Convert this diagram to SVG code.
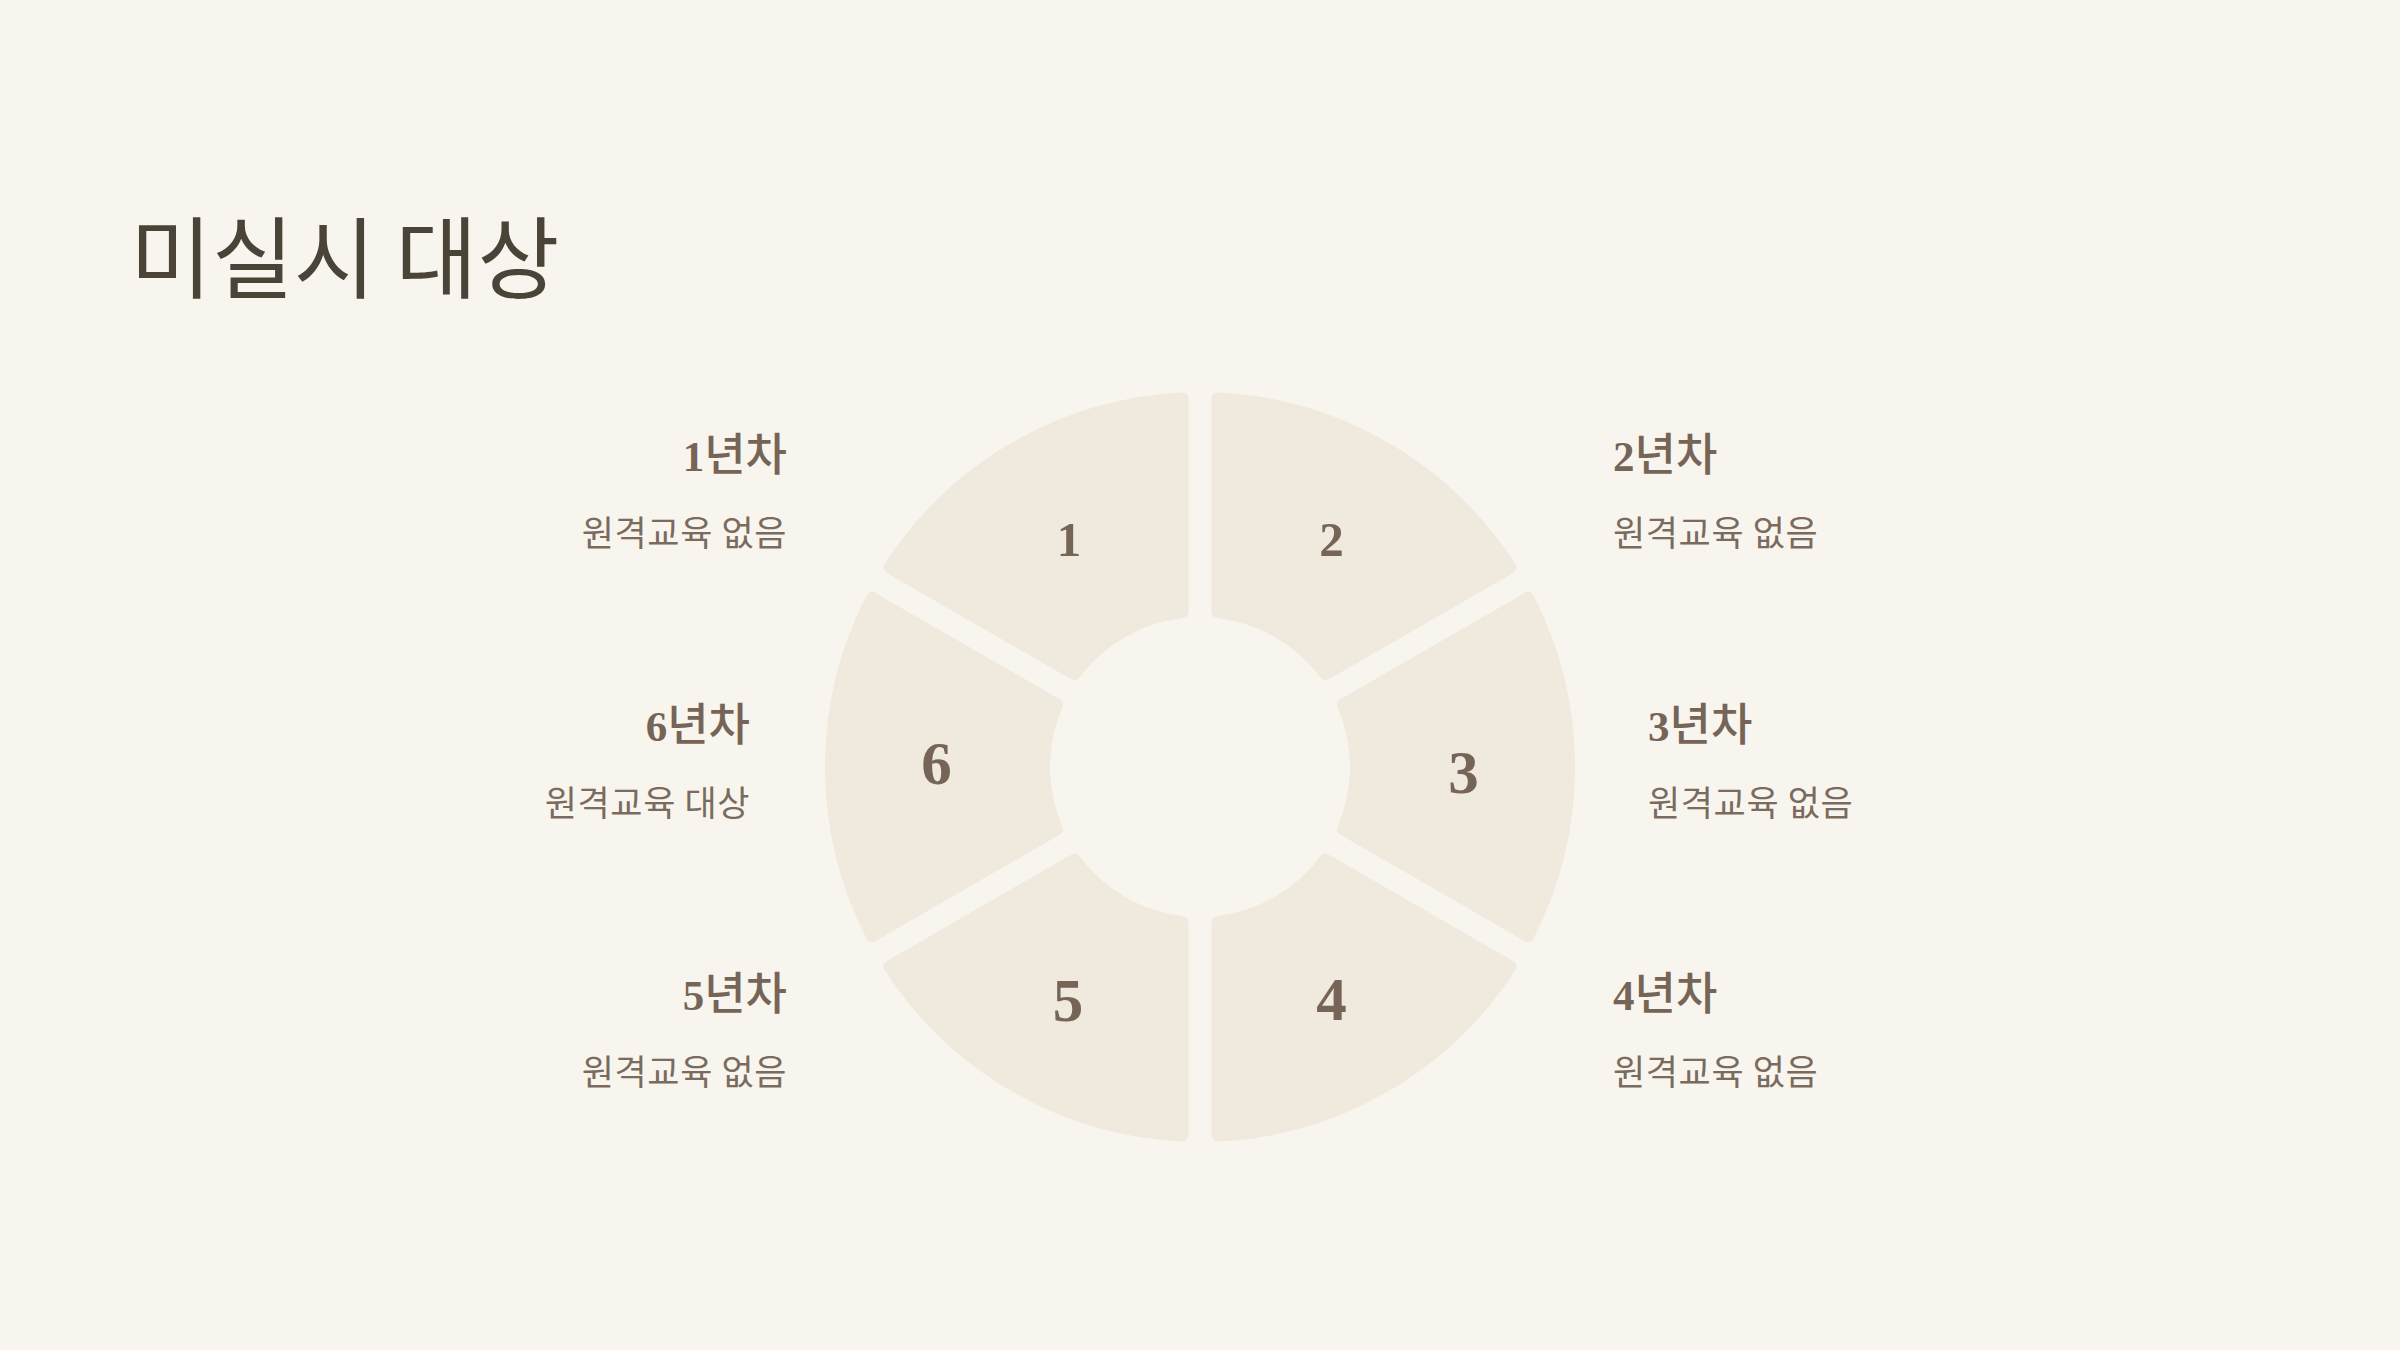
<svg xmlns="http://www.w3.org/2000/svg" width="2400" height="1350" viewBox="0 0 2400 1350">
<defs>
<style>
.seg{fill:#EFE9DE;stroke:#EFE9DE;stroke-width:12;stroke-linejoin:round}
.num{font-family:"Liberation Serif","DejaVu Serif",serif;font-weight:700;fill:#766556;text-anchor:middle}
.head{font-size:45px;fill:#766556}
.hd{font-family:"Liberation Serif","DejaVu Serif",serif;font-weight:700;font-size:43px}
.hk{font-family:"Noto Sans CJK KR","Noto Sans",sans-serif;font-weight:500}
.sub{font-family:"Noto Sans CJK KR","Noto Sans",sans-serif;font-size:35px;letter-spacing:0.6px;font-weight:400;fill:#7A6B5E}
.end{text-anchor:end}
.title{font-family:"Noto Sans CJK KR","Noto Sans",sans-serif;font-size:89px;font-weight:400;fill:#4A4438}
</style>
<path id="wedge" class="seg" d="M17.5,-155.015 L17.5,-368.585 A369,369 0 0 1 310.454,-199.448 L125.497,-92.663 A156,156 0 0 0 17.5,-155.015 Z"/>
</defs>
<rect width="2400" height="1350" fill="#F8F5EE"/>
<text id="title" class="title" x="130" y="291">미실시 대상</text>
<g id="connectors"></g>
<g id="seg1"><use href="#wedge" transform="translate(1200 767) rotate(-60)"/><text class="num" x="1069" y="556" font-size="49">1</text></g>
<g id="seg2"><use href="#wedge" transform="translate(1200 767)"/><text class="num" x="1331.5" y="556" font-size="49">2</text></g>
<g id="seg3"><use href="#wedge" transform="translate(1200 767) rotate(60)"/><text class="num" x="1463.5" y="793" font-size="61">3</text></g>
<g id="seg4"><use href="#wedge" transform="translate(1200 767) rotate(120)"/><text class="num" x="1331.5" y="1020" font-size="61">4</text></g>
<g id="seg5"><use href="#wedge" transform="translate(1200 767) rotate(180)"/><text class="num" x="1068" y="1021" font-size="61">5</text></g>
<g id="seg6"><use href="#wedge" transform="translate(1200 767) rotate(240)"/><text class="num" x="936.5" y="784" font-size="61">6</text></g>
<g id="label1"><text class="head end" x="787" y="471"><tspan class="hd">1</tspan><tspan class="hk">년차</tspan></text><text class="sub end" x="787" y="546">원격교육 없음</text></g>
<g id="label2"><text class="head" x="1613" y="471"><tspan class="hd">2</tspan><tspan class="hk">년차</tspan></text><text class="sub" x="1613" y="546">원격교육 없음</text></g>
<g id="label3"><text class="head" x="1648" y="741"><tspan class="hd">3</tspan><tspan class="hk">년차</tspan></text><text class="sub" x="1648" y="816">원격교육 없음</text></g>
<g id="label4"><text class="head" x="1613" y="1010"><tspan class="hd">4</tspan><tspan class="hk">년차</tspan></text><text class="sub" x="1613" y="1085">원격교육 없음</text></g>
<g id="label5"><text class="head end" x="787" y="1010"><tspan class="hd">5</tspan><tspan class="hk">년차</tspan></text><text class="sub end" x="787" y="1085">원격교육 없음</text></g>
<g id="label6"><text class="head end" x="750" y="741"><tspan class="hd">6</tspan><tspan class="hk">년차</tspan></text><text class="sub end" x="750" y="816">원격교육 대상</text></g>
</svg>
